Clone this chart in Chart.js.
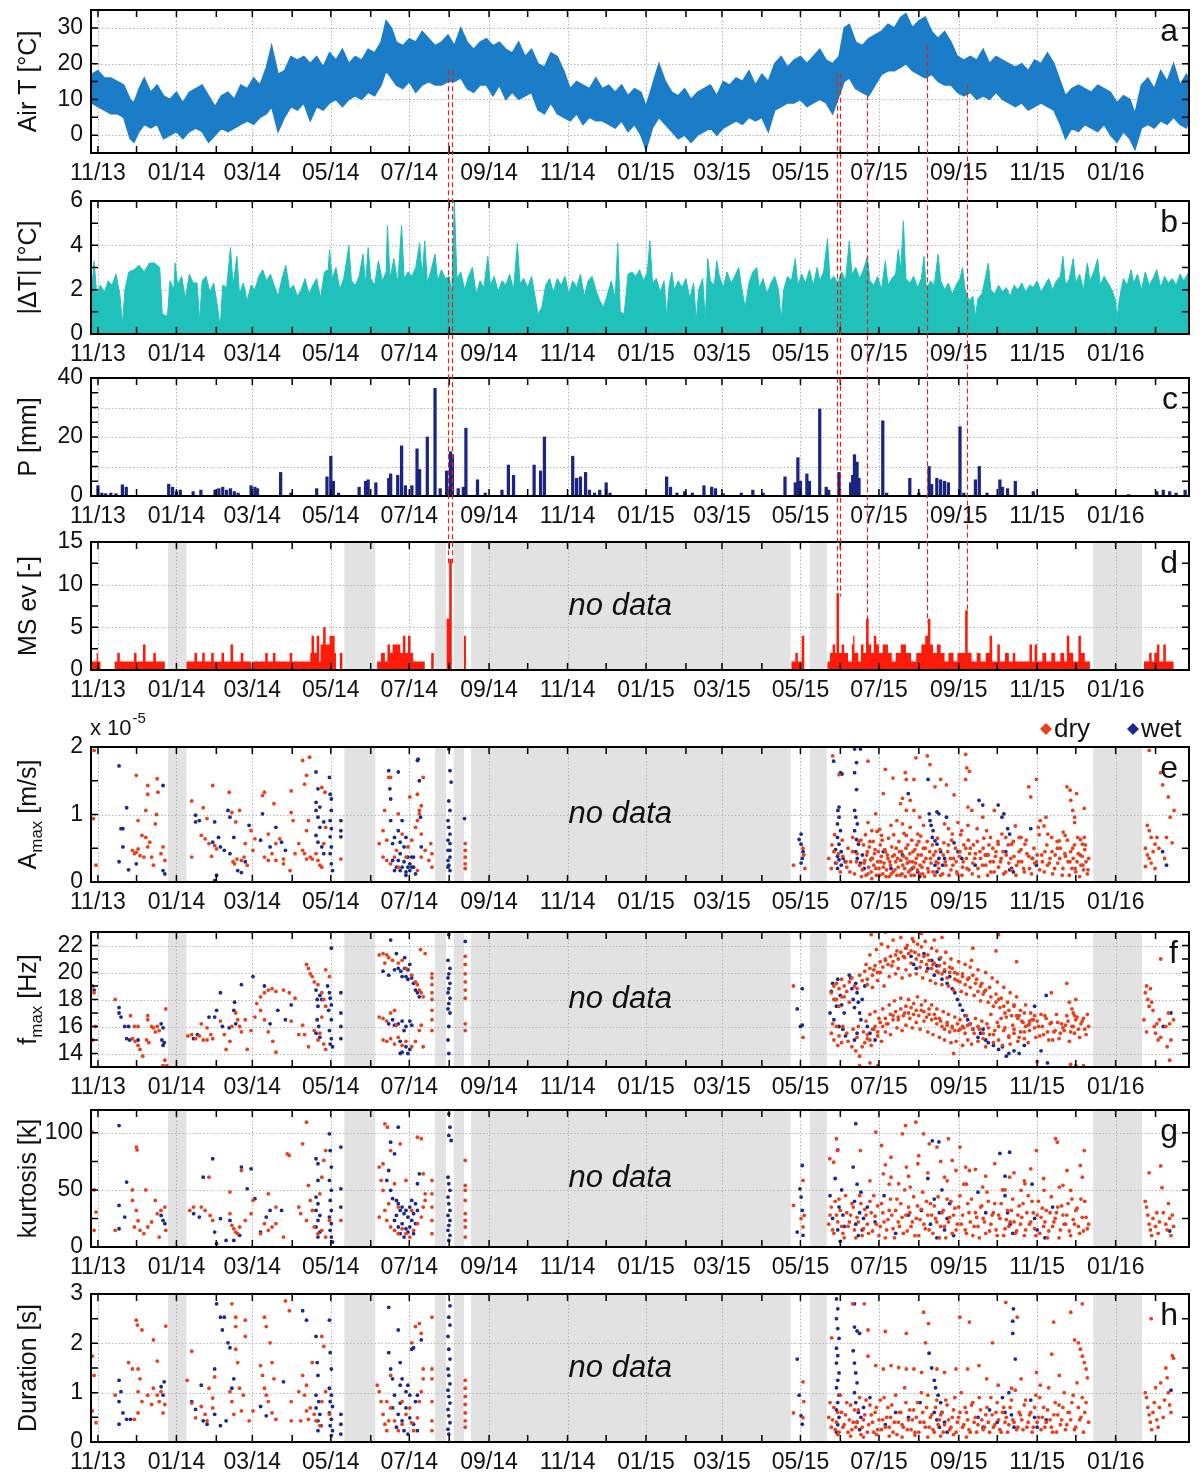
<!DOCTYPE html>
<html><head><meta charset="utf-8">
<script src="https://cdn.jsdelivr.net/npm/chart.js@4.4.1/dist/chart.umd.min.js"></script>
<style>
html,body{margin:0;padding:0;background:#fff;}
#wrap{position:relative;width:1200px;height:1475px;overflow:hidden;background:#fff;}
#wrap canvas{position:absolute;left:0;}
</style></head><body><div id="wrap"></div>
<script>
// ---------- axis ticks ----------
const tickMonths = ['2013-11','2013-12','2014-01','2014-02','2014-03','2014-04','2014-05','2014-06','2014-07','2014-08','2014-09','2014-10','2014-11','2014-12','2015-01','2015-02','2015-03','2015-04','2015-05','2015-06','2015-07','2015-08','2015-09','2015-10','2015-11','2015-12','2016-01','2016-02'];
const tickLabels = ['11/13','','01/14','','03/14','','05/14','','07/14','','09/14','','11/14','','01/15','','03/15','','05/15','','07/15','','09/15','','11/15','','01/16',''];

// ---------- data (x = days since 2013-11-01) ----------
const airHi = [[-5,17],[0,18],[5,16],[10,16],[15,15],[20,14],[25,10],[28,9],[32,13],[36,16],[41,12],[46,14],[51,11],[56,10],[61,12],[66,9],[71,12],[76,13],[81,14],[86,11],[91,8],[96,11],[101,12],[106,10],[111,14],[116,13],[121,16],[126,14],[131,19],[135,25],[140,17],[145,18],[150,22],[155,21],[160,22],[165,20],[170,22],[175,19],[180,23],[185,21],[190,24],[195,20],[200,22],[205,21],[210,24],[215,23],[220,26],[224,32],[228,30],[232,26],[237,25],[242,27],[247,26],[252,29],[257,27],[262,25],[267,26],[272,28],[277,25],[282,30],[287,26],[292,24],[297,26],[302,27],[307,25],[312,26],[317,24],[322,23],[327,26],[332,22],[337,24],[342,20],[347,19],[352,23],[357,22],[362,18],[367,13],[372,15],[377,14],[382,13],[387,16],[392,13],[397,14],[402,12],[407,14],[412,11],[417,13],[422,12],[426,8],[431,14],[436,20],[441,15],[446,12],[451,11],[456,13],[461,10],[466,12],[471,13],[476,14],[481,11],[486,15],[491,14],[496,16],[501,15],[506,18],[511,14],[516,17],[521,15],[526,20],[531,22],[536,19],[541,21],[546,22],[551,20],[556,22],[561,24],[566,21],[571,20],[576,22],[580,30],[584,31],[589,26],[594,25],[599,27],[604,28],[609,29],[614,31],[619,30],[624,33],[628,34],[633,30],[638,32],[643,33],[648,29],[653,27],[658,29],[663,26],[668,22],[673,21],[678,22],[683,21],[688,24],[693,20],[698,22],[703,21],[708,20],[713,19],[718,20],[723,18],[728,21],[733,20],[738,23],[743,20],[748,15],[752,11],[757,13],[762,14],[767,13],[772,12],[777,14],[782,13],[787,12],[792,9],[797,11],[802,10],[806,6],[811,14],[816,16],[821,13],[826,18],[831,15],[836,20],[841,14],[846,17],[848,15]];
const airLo = [[-5,9],[0,8],[5,7],[10,6],[15,6],[20,5],[25,-1],[28,-2],[32,1],[36,3],[41,2],[46,3],[51,-1],[56,0],[61,1],[66,-1],[71,1],[76,2],[81,1],[86,-2],[91,0],[96,2],[101,1],[106,2],[111,3],[116,4],[121,3],[126,5],[131,6],[135,8],[140,1],[145,5],[150,8],[155,7],[160,9],[165,4],[170,8],[175,7],[180,9],[185,10],[190,8],[195,10],[200,11],[205,10],[210,12],[215,11],[220,14],[224,18],[228,16],[232,14],[237,13],[242,15],[247,12],[252,14],[257,15],[262,14],[267,14],[272,15],[277,15],[282,16],[287,13],[292,12],[297,14],[302,14],[307,11],[312,14],[317,10],[322,12],[327,10],[332,11],[337,12],[342,7],[347,6],[352,9],[357,6],[362,5],[367,4],[372,6],[377,3],[382,5],[387,4],[392,4],[397,3],[402,2],[407,4],[412,1],[417,3],[422,0],[426,-4],[431,2],[436,5],[441,3],[446,1],[451,-1],[456,0],[461,-2],[466,0],[471,1],[476,2],[481,0],[486,2],[491,3],[496,4],[501,3],[506,5],[511,4],[516,5],[521,1],[526,7],[531,8],[536,9],[541,9],[546,10],[551,8],[556,9],[561,10],[566,9],[571,6],[576,11],[580,15],[584,16],[589,13],[594,12],[599,11],[604,14],[609,17],[614,18],[619,18],[624,19],[628,20],[633,18],[638,17],[643,16],[648,17],[653,15],[658,14],[663,14],[668,12],[673,11],[678,12],[683,10],[688,11],[693,10],[698,12],[703,10],[708,9],[713,8],[718,9],[723,7],[728,8],[733,9],[738,8],[743,7],[748,3],[752,-1],[757,2],[762,1],[767,3],[772,2],[777,1],[782,3],[787,0],[792,-2],[797,1],[802,-1],[806,-4],[811,2],[816,3],[821,2],[826,4],[831,3],[836,5],[841,3],[846,2],[848,4]];
const dT = [[-5.4,1.5],[-3,3.3],[-1,1.8],[2,2.2],[5,1.9],[8,2.4],[11,2.2],[14,2.7],[17,1.8],[19,0.4],[21,2.0],[24,2.8],[28,2.9],[32,3.1],[36,2.8],[40,3.2],[44,3.2],[48,3.0],[50,0.9],[54,0.8],[56,2.4],[59,2.0],[60,3.2],[62,2.2],[65,2.6],[68,1.6],[71,2.7],[74,2.3],[77,2.3],[79,0.6],[81,2.4],[84,2.6],[87,1.9],[90,2.3],[93,1.2],[95,0.3],[97,2.2],[100,2.1],[103,3.9],[105,2.2],[108,3.5],[110,1.8],[113,2.3],[116,1.5],[119,2.2],[122,2.0],[125,2.6],[128,2.9],[131,2.4],[134,2.7],[137,2.2],[140,1.7],[143,2.5],[146,3.1],[149,2.0],[152,2.2],[155,1.7],[158,2.0],[161,2.5],[164,1.8],[167,2.2],[170,2.5],[173,1.6],[176,2.8],[179,2.9],[180,3.8],[182,2.5],[185,3.0],[188,2.0],[191,2.5],[193,3.2],[195,4.0],[197,2.4],[200,2.2],[203,2.6],[206,3.6],[208,2.2],[210,3.9],[212,2.5],[215,2.2],[218,3.3],[221,2.4],[224,2.8],[225,4.9],[227,2.5],[230,3.4],[233,2.3],[236,4.9],[238,2.5],[241,2.8],[244,2.6],[247,3.0],[250,4.1],[252,2.6],[254,4.2],[256,2.3],[259,2.9],[262,3.6],[264,2.4],[267,2.9],[270,2.5],[273,2.6],[275,1.8],[277,6.0],[279,2.5],[282,2.8],[285,2.0],[288,2.6],[291,3.0],[294,1.8],[297,2.4],[300,2.1],[303,3.5],[305,2.2],[308,2.6],[311,1.9],[314,2.4],[317,2.2],[320,2.7],[323,2.0],[326,4.1],[328,2.3],[331,2.5],[334,2.1],[337,2.6],[340,1.6],[342,0.9],[345,1.2],[348,2.2],[351,2.5],[354,1.9],[357,2.5],[360,2.2],[363,2.6],[366,1.8],[369,2.4],[372,2.1],[375,2.7],[378,1.7],[381,2.4],[384,2.6],[387,2.0],[390,1.5],[393,1.2],[396,1.8],[399,2.4],[402,1.6],[404,4.1],[406,1.0],[409,0.9],[412,2.7],[415,2.8],[418,2.6],[421,2.9],[424,2.4],[427,2.8],[429,4.2],[431,2.3],[434,2.5],[437,1.9],[440,2.4],[442,0.8],[444,2.2],[446,2.8],[448,2.0],[451,2.4],[454,2.1],[457,2.5],[460,1.6],[463,2.3],[465,0.6],[467,2.0],[470,2.5],[472,0.6],[474,3.4],[476,2.4],[479,2.2],[481,3.3],[483,2.6],[486,2.1],[489,2.8],[492,2.3],[495,2.6],[498,3.0],[500,2.2],[503,1.2],[506,2.3],[509,2.8],[512,3.0],[514,2.1],[517,2.5],[520,1.8],[523,2.3],[526,2.6],[529,2.0],[531,0.6],[533,2.0],[536,2.6],[539,2.4],[542,3.4],[544,2.2],[547,2.7],[550,2.3],[553,2.9],[556,2.2],[559,3.0],[561,2.4],[564,2.8],[567,4.3],[569,2.4],[572,2.6],[575,2.3],[578,2.8],[581,2.4],[584,4.2],[586,2.7],[589,3.0],[592,2.5],[595,2.9],[598,3.5],[600,2.4],[603,2.2],[606,2.6],[609,2.0],[612,3.3],[614,2.2],[617,2.5],[620,2.7],[622,3.8],[624,2.9],[626,5.1],[628,2.5],[631,2.3],[634,2.6],[637,2.1],[640,2.5],[642,3.5],[644,2.0],[647,2.4],[650,2.2],[653,3.6],[655,2.4],[658,2.0],[661,2.3],[664,1.8],[667,2.2],[670,2.5],[672,3.0],[674,2.0],[677,1.5],[680,1.7],[682,0.8],[684,1.6],[687,1.8],[690,2.6],[692,3.2],[694,2.0],[697,1.8],[700,2.2],[703,1.9],[706,2.1],[709,1.7],[712,2.2],[715,2.0],[718,2.3],[721,1.9],[724,2.2],[727,2.1],[730,2.4],[733,1.9],[736,2.2],[739,2.5],[742,2.0],[745,2.4],[748,2.6],[750,3.5],[752,2.2],[755,2.5],[758,3.4],[760,2.3],[763,2.7],[766,2.0],[769,3.2],[771,2.4],[774,2.8],[777,3.4],[779,2.2],[782,2.6],[785,2.3],[788,2.0],[791,1.5],[792,0.7],[794,1.6],[797,2.5],[800,2.2],[803,2.9],[805,2.3],[808,2.7],[811,2.0],[814,2.8],[817,2.2],[820,2.5],[823,2.9],[826,2.1],[829,2.6],[832,2.3],[835,2.5],[838,2.2],[841,2.7],[844,2.4],[848,2.8]];
const pRain = [[0,3.5],[3,1],[6,0.8],[10,1],[14,0.8],[19,3.8],[22,3],[55,4],[58,3],[61,1.5],[64,2],[74,1.5],[80,2],[91,2],[94,2.5],[97,3],[100,2],[103,2.5],[106,1.5],[109,1],[119,3.5],[122,3],[124,2.5],[142,8],[150,1],[170,2.5],[178,6.5],[181,13.5],[183,5],[187,1],[203,3],[208,5],[210,5.5],[216,4.5],[226,6],[227.5,7.5],[233,7],[236,17],[239,3.5],[244,3.5],[248,16],[250,9],[256,20],[262,36.5],[266,2.5],[271,8.5],[274,15],[275.5,14],[280,2.5],[284,3],[286,23],[295,5.5],[301,1],[314,2],[319,10.5],[323,7],[339,10.5],[344,8.5],[347,20],[369,13.5],[372,6],[375,6.5],[379,8],[382,2],[386,1],[390,2],[395,4.5],[398,1],[442,6.5],[445,3],[450,1],[456,1.5],[462,1],[471,3.5],[477,3],[480,2.5],[486,0.8],[500,1],[509,2],[517,1],[534,6.5],[542,4.5],[544,13],[546,5],[551,7.5],[553,5],[561,29.5],[566,3],[568,2],[576,8],[585,4.5],[586.5,7],[588,14],[590,11.5],[591.5,6],[610,25.5],[613,1],[631,6],[638,1],[646,10],[648,4],[652,6],[655,5.5],[658,5],[661,4.5],[670,23.5],[673,1],[682,5.5],[685,10],[691,1],[701,5.5],[703,3],[707,2.5],[713,5],[727,1.5],[761,0.8],[801,0.5],[823,1.5],[828,2],[833,1.5],[838,1],[845,2]];
// value holds from each listed day until the next listed day
const msEv = [[-5.4,1],[-1,2],[0,1],[2,0],[13,1],[15,2],[17,1],[28,2],[30,1],[35,3],[37,1],[43,2],[45,1],[52,0],[68.8,1],[75,2],[77,1],[81,2],[83,1],[88,2],[90,1],[96,2],[98,1],[103,3],[105,1],[111,2],[113,1],[119,0],[120,1],[130,2],[132,1],[136,2],[138,1],[149,2],[151,1],[165,2],[166,4],[168,2],[170,4],[172,1],[173,3],[175,5],[177,3],[180,4],[184,2],[185,0],[188,2],[190,0],[217,1],[220,2],[223,1],[225,3],[227,2],[229,3],[235,2],[237,4],[239,2],[241,4],[243,2],[245,1],[254,0],[259,2],[261,0],[271,6],[273,13],[275,0],[284.5,4],[286,0],[539,1],[542,2],[544,1],[547,4],[549,0],[567,1],[569,2],[571,3],[573,2],[574,9],[576,2],[578,3],[580,2],[583,1],[586,3],[587,4],[588,2],[591,1],[593,3],[595,2],[597,6],[599,3],[601,2],[603,4],[605,3],[607,2],[610,3],[614,2],[617,1],[620,2],[624,3],[628,2],[632,1],[636,2],[640,3],[643,4],[645,6],[647,3],[649,2],[652,3],[655,2],[658,1],[661,2],[665,1],[668,2],[674,7],[676,2],[679,1],[683,2],[686,1],[690,2],[693,4],[695,1],[699,3],[701,1],[705,2],[708,1],[711,2],[713,1],[724,3],[726,1],[728,3],[730,1],[734,2],[737,1],[741,2],[744,1],[748,2],[751,1],[753,4],[755,2],[758,1],[762,4],[764,2],[767,1],[771,0],[813,1],[817,2],[819,1],[821,2],[823,3],[825,1],[828,3],[830,1],[836,0],[848,0]];

const eDry = [[-3,1.95],[-3.5,0.94],[-1.5,0.25],[29.8,1.58],[38.7,1.43],[38.7,1.3],[46,1.53],[46.7,1.33],[37.2,1.06],[45.5,1.0],[44.6,0.86],[31.2,0.91],[34.2,0.69],[26.8,0.47],[28.3,0.42],[29.8,0.44],[31.2,0.49],[32.7,0.39],[35.7,0.37],[38.7,0.52],[41.7,0.37],[43.1,0.25],[49,0.42],[50.6,0.52],[52,0.32],[37.2,0.66],[40.2,0.59],[72.9,1.2],[72.9,0.37],[89.2,1.43],[81.8,1.1],[84.8,0.94],[80.3,0.69],[83.3,0.64],[86.3,0.57],[92.2,0.49],[88.3,0.38],[90.7,0.54],[102,1.33],[104.1,1.03],[107.1,0.89],[110.1,1.06],[108,0.34],[105,0.3],[106.2,0.27],[111.5,0.32],[113.6,0.37],[114.5,0.57],[116,0.25],[119,0.76],[122,0.64],[120.5,0.47],[129.4,1.33],[127.9,1.28],[136.8,1.16],[132.4,0.71],[138.3,0.57],[141.3,0.64],[129.4,0.37],[132.4,0.32],[135.3,0.42],[138.3,0.32],[144.2,0.34],[150.2,1.35],[151.7,0.91],[150.2,1.03],[144.2,0.27],[149.3,0.17],[153.2,0.42],[156.1,0.57],[159.1,1.8],[164.5,1.85],[160.6,1.45],[162.1,1.58],[163.6,0.91],[162.1,0.76],[159.1,0.47],[160.6,0.42],[162.1,0.34],[165,0.37],[166.6,0.34],[169.5,0.42],[171,0.32],[172.5,0.25],[174,0.22],[175.5,0.57],[177,0.81],[174,1.4],[176.4,1.33],[188.8,0.34],[218.6,0.57],[226,1.55],[227.5,1.55],[222.8,1.06],[221.6,0.76],[224.5,0.62],[221.6,0.37],[224.5,0.32],[227.5,0.27],[230.5,0.37],[232,0.47],[233.4,0.22],[239.4,0.37],[240.9,0.52],[242.4,1.26],[243.9,0.62],[246.8,0.81],[248.3,0.91],[249.8,1.01],[248.3,1.3],[249.8,1.06],[251.3,0.71],[248.3,0.17],[251.3,0.37],[252.8,1.55],[251.3,1.13],[254.3,0.47],[257.2,0.32],[259.6,0.42],[259.6,0.22],[258.7,0.57],[233.4,1.01],[236.4,0.71],[285.5,0.57],[285.5,0.47],[285.5,0.37],[285.5,0.27],[285.5,0.2],[540.6,0.25],[548,0.5],[548.6,0.4],[549.5,0.2],[571,1.87],[576,1.59],[598.5,1.79],[612,1.67],[610.4,1.31],[617.9,1.54],[627.4,1.62],[628.3,1.52],[634.2,1.52],[635.7,1.84],[623.8,1.16],[625.3,1.24],[631.3,1.21],[628.3,1.06],[634.2,1.06],[638.7,0.96],[644.6,1.87],[646.7,1.74],[650.6,1.41],[655,1.52],[659.5,1.44],[665.4,1.29],[674.4,1.89],[675.3,1.69],[677.3,1.64],[674.4,1.52],[676.2,1.11],[679.2,1.06],[687.7,0.96],[690.7,0.76],[696.7,1.06],[702.6,0.71],[713,0.83],[716,0.66],[723.4,1.41],[725,1.26],[729.4,1.52],[730.9,0.81],[732.4,0.91],[735.3,0.83],[736.8,0.96],[738.3,0.71],[753.2,1.41],[755.6,1.36],[756.1,1.21],[757.6,1.06],[759.1,0.96],[760.6,1.31],[766.6,1.09],[766.6,0.66],[759.1,0.88],[750.2,0.74],[763.6,0.63],[586.6,0.66],[598.5,0.88],[601.5,0.76],[604.5,1.01],[607.5,0.78],[609,0.69],[616.4,0.84],[620.9,0.91],[625.3,0.86],[628.3,0.69],[631.3,0.81],[637.2,0.71],[641.7,0.84],[658,0.86],[661,0.79],[664,0.71],[668.4,0.88],[671.4,0.76],[676.2,0.84],[683.3,0.79],[693.7,0.66],[699.7,0.56],[705.6,0.66],[710.1,0.56],[717.5,0.66],[720.5,0.56],[741.3,0.66],[745.7,0.5],[747.2,0.61],[751.7,0.69],[765.1,0.56],[568,0.35],[570,0.2],[572,0.45],[574,0.28],[577,0.15],[579,0.38],[582,0.22],[583,0.5],[585,0.3],[588,0.12],[590,0.42],[592,0.25],[594,0.18],[595,0.55],[596,0.32],[597,0.1],[598,0.45],[599,0.22],[600,0.6],[601,0.15],[602,0.35],[603,0.25],[604,0.48],[605,0.1],[606,0.3],[607,0.2],[608,0.55],[609,0.38],[610,0.12],[611,0.28],[612,0.45],[613,0.18],[614,0.35],[615,0.08],[616,0.25],[617,0.52],[618,0.15],[619,0.4],[620,0.3],[621,0.1],[622,0.22],[623,0.45],[624,0.32],[625,0.12],[626,0.38],[627,0.2],[628,0.5],[629,0.28],[630,0.15],[631,0.42],[632,0.1],[633,0.3],[634,0.22],[635,0.48],[636,0.35],[637,0.18],[638,0.6],[639,0.25],[640,0.4],[641,0.12],[642,0.3],[643,0.5],[645,0.2],[647,0.35],[649,0.15],[651,0.45],[653,0.28],[655,0.1],[657,0.4],[659,0.25],[661,0.55],[663,0.18],[665,0.35],[667,0.3],[668,0.12],[670,0.45],[672,0.22],[673,0.55],[675,0.35],[677,0.18],[678,0.5],[680,0.28],[682,0.42],[684,0.2],[686,0.35],[688,0.5],[690,0.25],[692,0.4],[694,0.15],[696,0.3],[698,0.45],[700,0.22],[702,0.35],[704,0.12],[706,0.4],[708,0.28],[710,0.18],[712,0.38],[714,0.25],[716,0.45],[718,0.3],[720,0.15],[722,0.42],[724,0.2],[726,0.35],[728,0.28],[730,0.4],[732,0.18],[734,0.3],[736,0.45],[738,0.25],[740,0.35],[742,0.12],[744,0.4],[746,0.28],[748,0.5],[750,0.2],[752,0.38],[754,0.3],[755,0.1],[756,0.45],[757,0.2],[758,0.35],[759,0.55],[760,0.15],[761,0.3],[762,0.42],[763,0.08],[764,0.25],[765,0.38],[766,0.18],[767,0.48],[768,0.3],[769,0.12],[770,0.35],[815.6,0.84],[817.1,0.76],[818.6,0.66],[814.1,0.5],[815.6,0.4],[817.1,0.35],[818.6,0.28],[814.1,0.23],[820.1,0.45],[821.6,0.56],[823.1,0.66],[824.6,0.5],[826,1.62],[827.5,1.44],[831.9,1.26],[833.4,0.96],[830.5,0.66],[834.9,0.58],[836.4,1.06],[817.1,1.95],[821.6,0.2],[829,0.35]];
const eDry2 = [[593,0.62],[593.5,0.08],[595.5,0.28],[596.5,0.7],[597.5,0.4],[598.5,0.12],[599.5,0.52],[600.5,0.33],[601.5,0.05],[602.5,0.6],[603.5,0.42],[604.5,0.2],[605.5,0.75],[606.5,0.45],[607.5,0.1],[608.5,0.3],[609.5,0.62],[610.5,0.22],[611.5,0.48],[612.5,0.08],[613.5,0.4],[614.5,0.65],[615.5,0.3],[616.5,0.12],[617.5,0.38],[618.5,0.7],[619.5,0.18],[620.5,0.5],[621.5,0.35],[622.5,0.6],[623.5,0.1],[624.5,0.45],[625.5,0.25],[626.5,0.72],[627.5,0.08],[628.5,0.35],[629.5,0.55],[630.5,0.3],[631.5,0.18],[632.5,0.62],[633.5,0.45],[634.5,0.1],[635.5,0.28],[636.5,0.55],[637.5,0.4],[638.5,0.12],[639.5,0.68],[640.5,0.22],[641.5,0.5],[642.5,0.08],[643.5,0.35],[644.5,0.6],[645.5,0.15],[646.5,0.45],[647.5,0.28],[648.5,0.55],[649.5,0.4],[650.5,0.1],[651.5,0.3],[652.5,0.65],[653.5,0.2],[654.5,0.48],[656.5,0.12],[657.5,0.58],[658.5,0.3],[660.5,0.45],[661.5,0.1],[662.5,0.35],[663.5,0.62],[664.5,0.25],[666.5,0.5],[667.5,0.15],[669.5,0.38],[670.5,0.7],[671.5,0.1],[672.5,0.3],[674.5,0.5],[675.5,0.2],[676.5,0.62],[677.5,0.42],[679.5,0.12],[680.5,0.55],[681.5,0.35],[683.5,0.6],[684.5,0.08],[685.5,0.45],[687.5,0.25],[688.5,0.65],[689.5,0.4],[691.5,0.1],[692.5,0.55],[693.5,0.3],[695.5,0.5],[696.5,0.15],[697.5,0.38],[699.5,0.6],[701.5,0.3],[703.5,0.45],[705.5,0.15],[707.5,0.55],[709.5,0.35],[711.5,0.6],[713.5,0.1],[715.5,0.3],[717.5,0.48],[719.5,0.2],[721.5,0.62],[723.5,0.38],[725.5,0.12],[727.5,0.5],[729.5,0.3],[731.5,0.7],[733.5,0.4],[735.5,0.15],[737.5,0.55],[739.5,0.28],[741.5,0.45],[743.5,0.2],[745.5,0.6],[747.5,0.35],[749.5,0.1],[751.5,0.42],[753.5,0.62],[755.5,0.3],[757.5,0.5],[759.5,0.2],[761.5,0.66],[763.5,0.4],[765.5,0.25],[767.5,0.55],[769.5,0.18],[570.5,0.55],[572.5,0.7],[575.5,0.42],[578.5,0.62],[581.5,0.3],[584.5,0.15],[586.5,0.45],[589.5,0.3],[591.5,0.6]];
const eWet = [[16.4,1.72],[22.3,1.1],[17.9,0.79],[19.4,0.79],[19.4,0.52],[16.4,0.3],[23.8,0.18],[50.6,1.43],[50.6,0.17],[52,0.12],[29.8,0.27],[75.9,0.99],[78.8,0.91],[75.9,0.89],[90.7,0.89],[93.7,0.66],[89.2,0.59],[95.2,0.52],[98.2,0.47],[90.7,0.02],[92.2,0.1],[101.1,1.06],[102.6,0.96],[105.6,0.66],[102.6,0.42],[108.6,0.17],[111.5,0.14],[114.5,0.3],[117.5,0.84],[127.9,1.01],[126.4,0.62],[133.8,0.52],[138.3,0.81],[142.7,0.59],[145.7,0.47],[169.5,1.63],[171,1.38],[169.5,1.18],[172.5,1.11],[169.5,1.06],[171,0.96],[172.5,0.81],[169.5,0.69],[171,0.59],[175.5,0.89],[174,0.52],[175.5,0.42],[179.9,1.55],[180.5,1.3],[181.4,1.23],[181.4,1.06],[180.5,0.91],[181.4,0.79],[180.5,0.67],[181.4,0.52],[180.5,0.42],[181.4,0.27],[182.3,0.17],[188.8,0.91],[188.8,0.76],[188.8,0.67],[226,1.65],[226.9,1.38],[227.5,1.23],[233.4,1.63],[227.5,0.91],[229,0.57],[230.5,0.66],[233.4,0.76],[234.9,0.59],[236.4,0.91],[237.9,0.52],[239.4,0.66],[240.9,0.37],[242.4,0.27],[243.9,0.22],[245.3,0.37],[246.8,0.12],[248.3,1.8],[248.9,1.82],[249.8,1.5],[250.7,0.96],[251.3,0.52],[233.4,0.32],[234.9,0.17],[236.4,0.22],[237.9,0.3],[239.4,0.15],[232,0.22],[229,0.32],[230.5,0.17],[239.4,0.1],[242.4,0.17],[240.9,0.22],[245.3,0.22],[243.9,0.37],[234.9,0.42],[272.7,1.97],[273.6,1.65],[274.5,1.48],[272.7,1.2],[273.6,1.06],[272.1,0.91],[272.7,0.81],[273.6,0.71],[272.1,0.62],[273.6,0.57],[272.1,0.47],[273.6,0.37],[272.1,0.32],[272.7,0.25],[273.6,0.17],[272.1,0.22],[273.6,0.47],[284.9,0.94],[545,0.63],[546.5,0.71],[546.5,0.56],[548,0.45],[547.4,0.35],[546.5,0.28],[571.8,1.79],[577.1,1.62],[578.3,1.6],[576,1.11],[575.1,1.06],[576,0.96],[574.8,0.86],[577.1,0.76],[574.8,0.66],[576,0.56],[573.3,0.48],[577.7,0.45],[574.8,0.38],[576,0.33],[573.3,0.28],[577.7,0.25],[574.8,0.2],[579.2,0.35],[580.7,0.3],[588.1,1.97],[592.6,1.97],[589.6,1.77],[588.1,1.62],[589.6,1.37],[588.1,1.06],[589,0.96],[590.2,0.86],[588.1,0.76],[589.6,0.63],[591.1,0.56],[589,0.45],[590.2,0.35],[592.6,0.28],[594.1,0.4],[595.6,0.2],[601.5,0.35],[610.4,0.45],[616.4,0.2],[625.3,0.4],[629.8,1.31],[632.8,0.2],[637.2,0.15],[645.2,1.52],[646.1,1.01],[646.7,0.91],[647.6,0.84],[649.1,0.76],[648.5,0.66],[650.6,0.61],[652.1,1.04],[653.6,1.01],[652.1,0.56],[655,0.45],[653.6,0.35],[650.6,0.25],[656.5,0.25],[658,0.35],[659.5,0.96],[652.1,0.15],[638.7,0.08],[665.4,0.58],[668.4,0.45],[671.4,0.35],[684.8,1.21],[687.7,1.14],[681.8,0.25],[690.7,0.4],[699.7,1.14],[702.6,0.96],[704.1,1.01],[707.1,0.79],[708.6,0.71],[705.6,0.45],[710.1,0.2],[711.5,0.15],[708.6,0.18],[725,0.79],[726.4,0.35],[729.4,0.25],[827.5,0.45],[830.5,0.25]];

const fDry = [[-4,19],[-3,18.5],[-2,16],[-4,15],[13.4,18],[25.3,16.8],[28.3,16],[31.2,16],[26.8,15.1],[28.9,14.9],[31.2,14.6],[32.7,14.3],[34.8,13.8],[38.7,16.8],[38.7,16.5],[37.8,15],[39.6,14.8],[41.7,16],[43.1,15.9],[44.6,15.6],[46.1,16],[47.6,15.7],[52.7,17.3],[52,13.5],[50.6,13.1],[53.5,13.1],[69.9,15.3],[72.9,15.4],[75.9,15.1],[78.8,15.3],[81.8,15],[84.8,15],[87.7,15.4],[89.2,15.1],[80.3,16.2],[84.8,15.9],[95.2,16.4],[98.2,15.4],[99.6,14.3],[104.1,16],[102.6,14.9],[107.1,17],[108.6,16.5],[110.1,16],[111.5,15.6],[114.5,16.5],[116,14.3],[119,15.7],[122,16.7],[123.4,17.7],[126.4,18.2],[129.4,18.5],[132.4,18.7],[135.3,18.8],[138.3,18.6],[126.4,17.2],[129.4,16.5],[132.4,15.6],[135.9,14.9],[138.3,14.1],[144.2,18.7],[148.7,18.5],[153.2,18.1],[150.2,16.4],[156.1,15.4],[159.1,16.1],[160.6,15.4],[162.1,20.6],[163.6,20.3],[165,19.9],[166.6,19.7],[168.1,19.3],[171,19.1],[174,18.5],[175.5,18],[177,17.5],[174,16.7],[172.5,15.5],[175.5,14.7],[177,14.3],[177,20.2],[179.9,19.7],[171,15],[163.6,14.5],[168.1,15.7],[218.6,21.3],[221.6,21.4],[224.5,21.3],[226,21.1],[229,20.9],[223,20.7],[233.4,20.7],[236.4,20.9],[239.4,20.3],[243.9,19.8],[246.8,19.3],[248.3,19.1],[249.8,18.7],[251.3,18.5],[252.8,18.2],[250.7,21.7],[254.3,21.4],[259.6,19.9],[259.6,19.6],[259.6,19.1],[259.6,18.5],[259.6,18],[218.6,16.7],[221.6,16.6],[224.5,16.4],[227.5,17],[230.5,17.2],[232,16.1],[221.6,15],[224.5,14.9],[227.5,15.1],[230.5,14.7],[233.4,15.2],[236.4,14.6],[239.4,14.9],[243.9,14.5],[246.8,14.9],[249.8,15.7],[251.3,16.1],[252.8,14.5],[259.6,17.2],[259.6,16.5],[259.6,15.7],[285.5,21.2],[285.5,20.6],[285.5,19.9],[285.5,19.3],[285.5,18.7],[285.5,18.1],[285.5,16.2],[285.5,15.7],[540.6,19],[548,15.2],[570,18.5],[572,19],[574,18],[576,18.8],[578,19.5],[580,18.2],[584,19.3],[588,19],[592,19.8],[596,20.1],[598,19.5],[600,20.3],[602,19.8],[604,20.5],[606,20],[608,20.8],[610,20.4],[612,21],[614,20.6],[616,21.2],[618,20.8],[620,21.3],[622,21],[624,21.5],[626,21.2],[628,21.8],[630,21.4],[632,21.6],[634,22.3],[636,21],[638,21.3],[640,20.8],[642,21.2],[644,20.6],[646,20.9],[648,20.3],[650,20.7],[652,20.1],[654,20.5],[656,19.9],[658,20.2],[660,19.6],[662,20],[664,20.3],[666,19.5],[668,19.9],[670,19.3],[672,19.7],[674,19.1],[676,19.5],[678,20.4],[680,19.8],[682,19.2],[684,18.6],[686,19],[688,18.4],[690,18.7],[694,18.2],[698,17.8],[700,18],[704,17.5],[708,17.2],[712,17.6],[716,16.8],[720,17],[724,16.4],[728,16.8],[601,22.8],[612,23],[640,22.9],[650,22.4],[656,22.6],[680,21.8],[700,22.8],[698,21.6],[714,20.8],[741,18.5],[753,19.2],[760,18],[755,17.8],[757,17.3],[758,17],[759,16.8],[570,15.5],[572,15],[574,16],[576,15.3],[578,14.8],[582,15.5],[586,14.5],[590,15.2],[592,13.8],[594,14.5],[596,14.8],[598,15.4],[600,15],[602,15.8],[604,16],[606,15.6],[608,16.3],[610,16],[612,16.6],[614,16.2],[616,16.9],[618,16.5],[620,17.1],[622,16.7],[624,17.3],[626,16.8],[628,17.5],[630,17],[632,17.4],[634,16.9],[636,17.2],[638,16.8],[640,17.6],[642,17.1],[644,16.7],[646,17.3],[648,16.5],[650,16.9],[652,16.2],[654,16.6],[656,16],[658,15.8],[660,16.3],[662,15.6],[664,16],[666,15.7],[668,16.2],[670,15.8],[672,16],[674,15.5],[676,16.1],[680,15.8],[684,16],[688,15.5],[692,15.9],[696,15.4],[700,16],[704,15.7],[708,15.3],[712,15.8],[716,15.2],[720,15.6],[724,16.2],[726,16.5],[728,15.9],[730,16.4],[732,15.3],[734,16],[736,16.8],[738,15.6],[740,16.2],[742,15],[744,15.7],[746,16.3],[748,15.5],[750,15.9],[752,16.1],[754,16.4],[756,15.6],[758,16],[760,16.5],[762,15.8],[764,16.2],[766,16.6],[768,15.4],[770,16],[592,13.1],[600,13.3],[606,13.1],[665,14],[730,13.4],[756,13.2],[760,13.1],[766,13.1],[813,16.5],[814,18.5],[815,19],[816,18],[817,17.5],[818,18.8],[819,17.8],[820,17.2],[821,16],[822,15.5],[823,16.2],[824,15],[825,16.5],[826,15.2],[815,15.6],[830,16],[831,14.5],[832,17],[833,16.2],[834,15],[836,16.5],[826,21],[833,13.5]];
const fDry2 = [[597,20.6],[598,19.1],[600,21.3],[602,18.9],[603,20.2],[605,21.7],[606,19.4],[608,20.0],[609,22.1],[611,19.0],[612,20.9],[614,21.9],[615,19.7],[617,20.5],[618,22.4],[620,19.9],[621,21.6],[622,20.3],[624,22.6],[625,19.6],[627,21.1],[628,20.2],[629,22.0],[631,19.8],[632,20.7],[633,22.5],[635,21.5],[636,19.9],[637,22.1],[639,20.4],[640,21.9],[641,19.6],[643,22.3],[644,20.1],[645,21.3],[647,19.4],[648,21.8],[649,20.6],[651,19.2],[652,21.6],[653,20.0],[655,21.1],[656,19.1],[658,20.7],[659,21.5],[661,19.0],[662,20.4],[663,21.0],[665,18.7],[666,20.0],[668,19.4],[669,20.8],[671,18.6],[672,19.9],[674,20.6],[675,18.4],[677,19.6],[678,18.9],[679,20.9],[681,18.3],[683,19.5],[684,20.2],[686,17.9],[687,19.2],[689,18.6],[690,20.0],[692,17.8],[693,18.9],[695,19.6],[696,17.5],[698,18.4],[699,19.3],[701,17.4],[702,18.1],[704,18.9],[705,17.0],[707,17.8],[709,18.5],[710,16.8],[712,17.5],[714,18.2],[715,16.6],[717,17.2],[719,16.3],[721,17.6],[723,16.1],[725,17.0],[597,16.4],[598,15.1],[600,16.9],[601,14.6],[603,15.8],[604,17.1],[606,15.3],[607,16.6],[609,14.9],[610,17.3],[612,15.6],[613,16.2],[615,17.6],[616,15.4],[618,16.8],[619,17.9],[621,15.9],[622,16.5],[624,18.1],[625,15.7],[627,17.0],[628,16.1],[630,18.0],[631,16.6],[633,15.9],[634,17.7],[636,16.3],[637,18.2],[639,15.8],[640,17.2],[642,16.4],[643,17.9],[645,15.6],[646,16.9],[648,17.6],[649,15.4],[651,16.6],[652,17.3],[654,15.2],[655,16.4],[657,17.1],[658,15.0],[660,16.1],[661,16.9],[663,14.8],[664,15.9],[666,16.7],[667,14.9],[669,15.7],[670,16.5],[672,14.6],[673,15.9],[675,16.8],[676,15.0],[678,16.2],[679,14.7],[681,15.5],[682,16.6],[684,14.9],[685,15.8],[687,16.4],[688,15.1],[690,14.5],[691,16.2],[693,15.4],[694,16.9],[696,14.8],[697,15.7],[699,16.3],[700,15.0],[702,16.6],[703,14.6],[705,15.9],[706,16.7],[708,15.2],[709,14.7],[711,16.1],[712,15.5],[714,16.8],[715,14.9],[717,15.6],[718,16.4],[720,15.1],[721,16.0],[723,14.8],[724,15.7],[727,16.5],[729,15.2],[731,16.0],[733,16.9],[735,15.4],[737,16.6],[739,15.0],[741,16.3],[743,15.6],[745,16.9],[747,15.1],[749,16.2],[751,15.7],[753,16.8],[755,14.9],[757,16.0],[759,15.5],[761,16.7],[763,15.2],[765,16.4],[767,15.8],[769,16.9],[572,18.0],[574,19.2],[576,17.5],[578,18.2],[580,19.0],[582,18.6],[584,17.8],[586,19.6],[590,18.8],[594,19.4],[571,16.2],[575,14.6],[579,16.0],[583,14.9],[587,15.8],[589,14.2],[591,16.0],[595,15.6]];
const fWet = [[-3,18.7],[16.4,17.4],[16.4,17],[17.9,16.7],[20.8,16],[23.8,16],[22.3,15.1],[24.7,15],[31.2,15],[49.1,16.2],[50.6,15.9],[49.7,15],[51.5,14.8],[50.6,14.6],[74.3,15.1],[77.3,15.4],[86.3,16.7],[90.7,16.7],[95.2,18.5],[92.2,17.2],[96.7,16],[102,15.9],[105.6,17.2],[106.2,17.8],[107.1,16.2],[111.5,19.1],[120.5,19.7],[129.4,19],[133.8,16.2],[139.8,17.2],[145.7,16.5],[150.2,17.6],[169.5,18.7],[170.4,18],[171,17.5],[172.5,18.3],[170.4,16.5],[171.6,16],[169.5,15.5],[172.5,15.2],[174,18],[178.5,19],[179.9,18.5],[180.5,18.1],[181.4,17.6],[179.3,17.2],[181.4,16.5],[179.9,15.7],[181.4,15.1],[180.5,14.7],[182.3,14.5],[181.4,21.8],[188.8,18.5],[188.8,17],[188.8,16],[188.8,15.1],[221.6,20.1],[226,19.8],[230.5,20.2],[232,21.4],[235.4,20.1],[238.4,20.3],[239.4,19.7],[240.9,20.2],[242.4,20.6],[243.9,19.6],[245.3,19.2],[246.8,18.7],[248.3,18.5],[249.8,18.2],[240.9,19.5],[236.4,19.7],[233.4,20.3],[227.5,22.4],[238.4,21.1],[226,16.2],[229,16.5],[233.4,16.2],[236.4,16.4],[239.4,16],[242.4,16.4],[243.9,16.1],[234.9,14.9],[239.4,14.5],[242.4,14.3],[236.4,14.1],[234.9,14],[240.9,14],[230.5,16.1],[237.9,15.7],[272.7,22.8],[272.1,20.9],[273.6,20.3],[272.7,19.9],[272.1,19.6],[273.6,19.2],[272.7,18.8],[272.1,18.5],[273.6,18.1],[272.7,17.7],[272.1,17.3],[273.6,17],[272.7,16],[272.1,15],[272.7,14],[285.5,22.3],[547.4,18.8],[543.5,17.3],[547.4,16.1],[546,16],[569,17],[570,18.6],[571,19.2],[572,16.5],[573,18],[574,17.5],[575,19.5],[576,16],[577,18.3],[578,17.6],[579,15.8],[580,17],[581,15.3],[585,19.6],[586,18.8],[587,18],[588,17.4],[589,19.2],[590,18.5],[591,17.8],[592,17],[593,16.5],[594,18],[590,15.5],[588,15],[584,19.8],[596,19],[598,16],[600,15.5],[604,15],[628,21.8],[632,21.2],[634,20.6],[636,20.3],[642,21.4],[645,20.3],[648,20.9],[650,19.8],[652,20.5],[654,21],[656,19.5],[658,20.1],[660,19.2],[662,19.7],[664,18.8],[666,18.5],[668,18],[670,17.6],[672,17.2],[674,16.8],[676,16.5],[678,16.2],[680,15.8],[684,15.2],[686,15.5],[688,15.8],[690,15],[692,14.8],[696,14.6],[700,14.3],[703,14.5],[706,13.8],[708,14],[712,14.2],[716,14],[720,14.6],[737,18.3],[728,17.5],[733,14.2],[738,13.3],[834,17],[828,16]];

const gDry = [[-4.4,100.6],[-3,50],[-1.5,30.6],[-3,14.6],[29.8,87.5],[30.4,85],[26.8,50],[37.2,50],[29.8,32],[31.2,23],[28.3,17.5],[32.7,14.6],[35.7,11.7],[38.7,17.5],[41.7,21.9],[44.6,40.8],[46.1,29.2],[49,32],[47.6,8.7],[52,35],[52.7,14.6],[13.4,14.6],[26.8,40.8],[71.4,32],[74.4,35],[80.3,35],[86.3,61.2],[83.3,32],[87.2,27.7],[89.2,23.3],[102.6,48.1],[102.6,29.2],[104.1,19],[105.6,16],[107.1,13.1],[108.6,11.7],[110.1,17.5],[111.5,67],[114.5,23.3],[119,29.2],[120.5,40.8],[126.4,11.7],[129.4,20.4],[132.4,14.6],[135.3,17.5],[138.3,20.4],[132.4,46.6],[138.3,35],[144.2,8.7],[147.2,81.6],[148.7,80.2],[156.1,35],[157.6,29.2],[159.1,90.4],[162.1,109.3],[163.6,53.9],[165,40.8],[166.6,32],[162.1,23.3],[168.1,17.5],[171,11.7],[174,61.2],[175.5,75.8],[177,84.5],[174,14.6],[177,8.7],[179.9,23.3],[188.8,23.3],[172.5,46.6],[223,107.9],[225,105],[227.5,84.5],[234.9,90.4],[248.3,96.2],[251.3,94.8],[218.6,70],[221.6,72.9],[220.1,58.3],[221.6,49.6],[223,32],[224.5,23.3],[218.6,26.2],[227.5,17.5],[230.5,14.6],[233.4,11.7],[236.4,16],[239.4,11.7],[242.4,8.7],[245.3,14.6],[248.3,20.4],[251.3,26.2],[252.8,64.1],[254.3,46.6],[254.3,40.8],[252.8,35],[259.6,58.3],[259.6,46.6],[259.6,35],[259.6,23.3],[259.6,11.7],[226,37.9],[230.5,55.4],[239.4,58.3],[243.9,32],[233.4,35],[285.5,75.8],[285.5,53.9],[285.5,49.6],[285.5,40.8],[285.5,29.2],[285.5,23.3],[285.5,17.5],[285.5,8.7],[540.6,36.4],[548,58.3],[546.5,24.8],[548.9,27.7],[548,17.5],[573.9,94.8],[568.8,77.3],[571.8,74.3],[574.8,84.5],[592.6,84.5],[604.5,100.6],[609,88.9],[616.4,78.7],[625.3,99.1],[627.7,106.4],[635.7,109.3],[641.7,99.1],[646.1,90.4],[652.1,87.5],[661,94.8],[670,87.5],[664,75.8],[674.4,70],[677.3,67],[720.5,55.4],[729.4,84.5],[744.3,94.8],[745.7,91.8],[753.2,67],[763.6,71.4],[766.6,84.5],[725,68.5],[610.4,64.1],[616.4,61.2],[628.3,70],[637.2,72.9],[622.3,55.4],[631.3,52.5],[658,61.2],[666.9,67],[687.7,52.5],[708.6,61.2],[717.5,49.6],[735.3,49.6],[747.2,52.5],[756.1,49.6],[765.1,61.2],[568,20],[570,35],[572,12],[574,28],[576,42],[578,18],[580,8],[582,30],[584,22],[586,38],[588,15],[590,26],[592,45],[594,10],[596,33],[598,20],[600,40],[602,14],[604,27],[606,36],[608,18],[610,30],[612,8],[614,24],[616,42],[618,16],[620,32],[622,22],[624,38],[626,12],[628,28],[630,35],[632,18],[634,44],[636,25],[638,10],[640,33],[642,20],[644,40],[646,15],[648,28],[650,36],[652,22],[654,8],[656,30],[658,18],[660,42],[662,26],[664,12],[666,34],[668,20],[670,45],[672,28],[674,15],[676,38],[678,22],[680,10],[682,30],[684,18],[686,35],[688,25],[690,12],[692,40],[694,20],[696,30],[698,15],[700,28],[702,38],[704,10],[706,24],[708,18],[710,32],[712,22],[714,14],[716,36],[718,26],[720,10],[722,30],[724,20],[726,40],[728,16],[730,28],[732,12],[734,34],[736,22],[738,8],[740,30],[742,18],[744,25],[746,35],[748,15],[750,28],[752,20],[754,38],[756,10],[758,24],[760,32],[762,18],[764,42],[766,14],[768,26],[770,20],[814,40],[815,35],[816,28],[817,20],[818,15],[819,10],[820,25],[822,18],[823,30],[824,12],[825,22],[826,71],[828,30],[830,20],[831,15],[832,38],[833,25],[834,10],[835,28],[836,18],[817,65],[827,52]];
const gDry2 = [[569,28],[571,15],[573,40],[575,22],[577,32],[579,12],[581,45],[583,18],[585,28],[587,35],[589,8],[591,22],[593,38],[595,16],[597,28],[599,12],[601,30],[603,45],[605,20],[607,10],[609,38],[611,22],[613,15],[615,32],[617,28],[619,8],[621,42],[623,18],[625,26],[627,50],[629,14],[631,30],[633,22],[635,10],[637,36],[639,24],[641,48],[643,16],[645,28],[647,38],[649,12],[651,25],[653,44],[655,18],[657,32],[659,8],[661,22],[663,40],[665,28],[667,15],[669,35],[671,20],[673,55],[675,12],[677,30],[679,42],[681,18],[683,26],[685,8],[687,36],[689,22],[691,48],[693,14],[695,28],[697,38],[699,10],[701,25],[703,50],[705,16],[707,32],[709,22],[711,42],[713,12],[715,28],[717,20],[719,38],[721,15],[723,45],[725,22],[727,30],[729,10],[731,40],[733,26],[735,18],[737,32],[739,14],[741,44],[743,22],[745,30],[747,8],[749,36],[751,20],[753,28],[755,14],[757,42],[759,20],[761,34],[763,12],[765,26],[767,40],[769,16],[600,58],[615,55],[630,62],[645,65],[660,58],[675,55],[690,62],[705,50],[720,58],[735,60],[750,54],[612,72],[638,80],[655,75],[682,68],[697,73],[712,65]];
const gWet = [[16.4,106.4],[22.3,56.9],[16.4,36.4],[20.8,26.2],[16.4,16],[49.1,27.7],[50.6,23.3],[52,20.4],[74.4,29.2],[78.8,26.2],[81.8,61.2],[89.2,77.3],[90.7,13.1],[92.2,2.9],[95.2,24.8],[99.6,5.8],[102.6,23.3],[105.6,5.8],[110.1,10.2],[111.5,70],[116,51],[119,68.5],[122,42.3],[126.4,13.1],[130.8,26.2],[133.8,32],[142.7,32],[169.5,77.3],[171,72.9],[171,58.3],[169.5,43.7],[171,37.9],[169.5,32],[172.5,27.7],[171,23.3],[169.5,17.5],[172.5,13.1],[171,8.7],[179.9,99.1],[180.5,84.5],[181.4,70],[179.9,58.3],[181.4,49.6],[180.5,40.8],[181.4,32],[179.9,26.2],[181.4,20.4],[180.5,14.6],[181.4,8.7],[182.3,4.4],[188.8,87.5],[188.8,51],[188.8,35],[233.4,105],[227.5,91.8],[230.5,81.6],[226,67],[224.5,58.3],[227.5,49.6],[229,42.3],[232,40.8],[233.4,37.9],[234.9,32],[236.4,35],[237.9,29.2],[239.4,32],[240.9,26.2],[242.4,35],[243.9,23.3],[245.3,29.2],[246.8,20.4],[248.3,32],[249.8,64.1],[248.3,55.4],[230.5,23.3],[233.4,17.5],[236.4,20.4],[239.4,16],[242.4,17.5],[245.3,11.7],[234.9,11.7],[237.9,8.7],[240.9,13.1],[232,27.7],[243.9,40.8],[246.8,37.9],[272.7,116.6],[273.6,105],[272.7,97.7],[274.5,93.3],[272.1,61.2],[272.7,55.4],[273.6,49.6],[272.1,43.7],[272.7,37.9],[273.6,32],[272.1,27.7],[273.6,23.3],[272.7,19],[272.1,14.6],[273.6,10.2],[272.7,5.8],[547.4,71.4],[545.6,51],[546.5,43.7],[547.4,32],[543.5,13.1],[548,10.2],[569,45],[571,25],[573,60],[575,15],[575,85],[576,35],[577,5],[578,50],[579,28],[580,18],[587,70],[588,40],[589,20],[590,55],[591,10],[592,30],[593,48],[594,15],[595,25],[598,35],[604,22],[611,45],[620,12],[630,28],[589,108],[640,32],[645,60],[647,20],[650,42],[652,8],[654,30],[656,50],[658,15],[660,25],[662,38],[648.5,93],[653.6,92],[665,10],[684,48],[690,30],[701,82],[708.6,83],[705,45],[707,30],[709,20],[711,12],[705,62],[726,55],[728,25],[730,15],[736,8],[742,35],[833,14]];

const hDry = [[-4.4,1.74],[-3,1.35],[-4.4,0.63],[-1.5,0.39],[13.4,0.95],[23.8,1.61],[26.8,1.48],[29.8,2.47],[30.7,2.37],[34.2,2.27],[31.2,1.48],[32.7,1.28],[31.2,1.02],[34.2,0.82],[31.2,0.59],[28.3,0.46],[38.7,0.95],[41.7,0.76],[43.1,1.09],[43.1,2.07],[46.1,1.64],[46.1,0.95],[47.6,0.82],[49,1.02],[52.7,2.35],[52,0.76],[50.6,0.59],[69.3,1.25],[72.9,1.84],[72.9,0.79],[75.9,0.49],[80.3,0.72],[83.3,0.56],[84.8,0.43],[86.3,1.09],[89.2,0.89],[90.7,1.32],[89.2,0.69],[102.6,1.02],[104.1,0.82],[105.6,0.56],[104.1,2.8],[107.1,2.53],[107.1,2.34],[107.1,1.88],[108.6,1.61],[110.1,1.09],[111.5,0.63],[113,0.95],[114.5,2.47],[114.5,2.14],[117.5,0.43],[120.5,0.63],[126.4,1.55],[127.9,1.35],[129.4,1.09],[130.8,0.95],[129.4,2.53],[130.8,2.34],[133.8,2.01],[135.3,1.61],[136.8,1.28],[132.4,0.82],[135.3,0.59],[138.3,0.46],[145.7,2.86],[148.7,2.66],[150.2,0.82],[150.2,0.43],[156.1,1.02],[157.6,0.43],[159.1,1.35],[160.6,0.95],[162.1,1.15],[162.1,0.63],[163.6,0.46],[165,0.69],[166.6,1.61],[168.1,0.56],[169.5,0.43],[172.5,0.33],[174,2.14],[175.5,1.94],[174,0.82],[177,1.02],[179.9,0.56],[217.1,1.15],[218.6,1.02],[220.1,0.82],[221.6,0.56],[223,0.36],[224.5,0.23],[226,0.43],[227.5,0.69],[230.5,0.43],[233.4,0.23],[236.4,0.36],[239.4,0.56],[242.4,0.69],[243.9,0.39],[245.3,0.23],[248.3,0.49],[249.8,0.82],[251.3,1.02],[246.8,2.34],[249.8,2.4],[251.3,2.2],[243.9,2.01],[252.8,1.48],[252.8,1.28],[259.6,2.53],[259.6,1.48],[259.6,1.28],[259.6,0.82],[259.6,0.43],[259.6,0.23],[224.5,0.82],[236.4,0.82],[227.5,1.35],[285.5,1.25],[285.5,1.09],[285.5,0.92],[285.5,0.76],[285.5,0.59],[285.5,0.43],[285.5,0.3],[540.6,0.59],[548,1.22],[548.6,0.82],[548,0.49],[586.6,2.8],[595.6,2.8],[570.3,2.11],[598.5,2.27],[612,2.24],[628.3,2.2],[641.7,2.63],[645.5,2.4],[643.2,2.01],[669.9,2.53],[677.3,2.43],[695.2,2.01],[705.6,2.83],[714.5,2.53],[729.4,1.41],[741.3,1.78],[742.8,2.43],[756.1,2.63],[765.1,2.8],[759.1,2.07],[762.1,2.01],[763.6,1.88],[765.1,1.74],[766.6,1.61],[768,1.48],[598.5,1.74],[604.5,1.55],[610.4,1.48],[616.4,1.55],[622.3,1.51],[628.3,1.48],[634.2,1.48],[640.2,1.41],[652.1,1.48],[658,1.41],[666.9,1.48],[675.9,1.48],[684.8,1.55],[690.7,1.28],[699.7,1.15],[710.1,1.09],[717.5,1.28],[732.4,1.15],[747.2,1.35],[568,0.5],[570,0.3],[572,0.7],[574,0.4],[576,0.2],[578,0.6],[580,0.35],[582,0.8],[584,0.45],[586,0.25],[588,0.65],[590,0.4],[592,0.9],[594,0.3],[596,0.55],[598,0.2],[600,0.75],[602,0.4],[604,0.6],[606,0.25],[608,0.85],[610,0.45],[612,0.3],[614,0.7],[616,0.5],[618,0.2],[620,0.95],[622,0.4],[624,0.6],[626,0.3],[628,0.8],[630,0.45],[632,0.25],[634,0.65],[636,0.5],[638,0.2],[640,1],[642,0.4],[644,0.7],[646,0.3],[648,0.55],[650,0.2],[652,0.85],[654,0.45],[656,0.6],[658,0.35],[660,0.75],[662,0.25],[664,0.5],[666,0.9],[668,0.4],[670,0.6],[672,0.3],[674,0.7],[676,0.45],[678,0.2],[680,0.8],[682,0.5],[684,0.35],[686,0.65],[688,0.25],[690,0.55],[692,0.4],[694,0.9],[696,0.3],[698,0.6],[700,0.45],[702,0.2],[704,0.7],[706,0.5],[708,0.35],[710,0.85],[712,0.4],[714,0.25],[716,0.6],[718,0.45],[720,0.75],[722,0.3],[724,0.55],[726,0.2],[728,0.7],[730,0.4],[732,0.9],[734,0.5],[736,0.3],[738,0.65],[740,0.45],[742,0.2],[744,0.8],[746,0.55],[748,0.35],[750,0.7],[752,0.25],[754,0.6],[756,0.45],[758,0.95],[760,0.3],[762,0.7],[764,0.5],[766,0.2],[768,0.8],[770,0.4],[575,0.15],[585,0.12],[595,0.1],[605,0.15],[615,0.12],[625,0.1],[635,0.14],[645,0.1],[655,0.12],[665,0.15],[675,0.1],[814,1],[815,0.9],[816,0.7],[817,0.55],[818,0.4],[819,0.25],[820,0.6],[821,0.8],[822,1.1],[823,0.45],[824,0.3],[825,0.7],[826,1.2],[828,0.5],[829,0.85],[830,1.5],[831,1.3],[832,1],[833,0.75],[834,0.6],[835,1.75],[818.6,2.5],[836,1.7]];
const hDry2 = [[569,0.8],[571,0.45],[573,0.25],[575,0.6],[577,0.95],[579,0.3],[581,0.55],[583,0.2],[585,0.75],[587,0.4],[589,0.3],[591,0.65],[593,0.15],[595,0.45],[597,0.85],[599,0.35],[601,0.55],[603,0.2],[605,0.7],[607,0.45],[609,0.25],[611,0.9],[613,0.5],[615,0.3],[617,0.75],[619,0.4],[621,0.15],[623,0.6],[625,0.35],[627,1.1],[629,0.25],[631,0.65],[633,0.45],[635,0.2],[637,0.8],[639,0.4],[641,0.6],[643,0.3],[645,0.95],[647,0.5],[649,0.25],[651,0.7],[653,0.35],[655,0.55],[657,0.2],[659,0.85],[661,0.45],[663,0.3],[665,0.65],[667,0.2],[669,0.5],[671,1.0],[673,0.35],[675,0.6],[677,0.25],[679,0.75],[681,0.4],[683,0.2],[685,0.9],[687,0.45],[689,0.3],[691,0.7],[693,0.2],[695,0.55],[697,0.35],[699,0.8],[701,0.25],[703,0.6],[705,0.4],[707,0.2],[709,0.7],[711,0.45],[713,1.05],[715,0.3],[717,0.55],[719,0.25],[721,0.85],[723,0.4],[725,0.6],[727,0.3],[729,0.95],[731,0.5],[733,0.25],[735,0.7],[737,0.4],[739,1.1],[741,0.3],[743,0.55],[745,0.2],[747,0.75],[749,0.45],[751,1.0],[753,0.35],[755,0.6],[757,0.8],[759,0.25],[761,1.2],[763,0.45],[765,0.9],[767,0.6],[769,1.3]];
const hWet = [[16.4,1.25],[17.9,1.02],[16.4,0.82],[19.4,0.59],[22.3,0.46],[16.4,0.36],[25.3,0.46],[49.1,1.12],[51.5,1.22],[50.6,0.95],[72.9,0.82],[75.9,0.66],[80.3,1.15],[81.8,0.43],[84.8,0.36],[90.7,0.56],[90.7,1.48],[92.2,2.8],[95.2,2.53],[96.7,2.27],[98.2,2.53],[95.2,0.33],[99.6,0.43],[101.1,2.01],[102.6,1.91],[104.1,1.09],[105.6,1.28],[126.4,0.72],[130.8,0.53],[144.2,1.22],[159.1,2.66],[162.1,2.47],[169.5,2.14],[170.4,1.61],[171,1.35],[169.5,0.95],[171.6,0.82],[169.5,0.69],[172.5,0.56],[171,0.43],[173.4,0.33],[171,0.23],[179.9,2.47],[180.5,1.81],[181.4,1.48],[179.9,1.09],[181.4,0.95],[180.5,0.82],[182.3,0.72],[179.9,0.59],[181.4,0.46],[180.5,0.33],[182.3,0.23],[181.4,0.13],[188.8,0.36],[188.8,0.16],[188.8,0.56],[226,2.73],[226,1.81],[227.5,1.48],[229,1.28],[233.4,2.27],[234.9,1.61],[234.9,1.15],[236.4,1.28],[239.4,1.02],[240.9,1.15],[242.4,0.95],[243.9,1.88],[245.3,1.91],[246.8,0.82],[248.3,0.95],[251.3,2.07],[239.4,0.69],[233.4,0.56],[236.4,0.43],[237.9,0.23],[242.4,0.49],[245.3,0.36],[248.3,0.23],[240.9,0.16],[232,0.3],[229,0.69],[230.5,0.95],[234.9,0.79],[273.6,2.76],[272.7,2.53],[273.6,2.37],[272.1,2.14],[272.7,1.88],[273.6,1.68],[272.1,1.48],[272.7,1.35],[273.6,1.18],[272.1,1.05],[272.7,0.92],[273.6,0.79],[272.1,0.66],[272.7,0.53],[273.6,0.39],[272.1,0.26],[272.7,0.16],[543.5,1.68],[545,0.95],[546.5,0.53],[547.4,0.36],[574,2.9],[575,2.7],[574,2.5],[575,2.3],[576,2.1],[574,1.9],[575,1.75],[574,1.6],[576,1.4],[575,1.25],[574,1.1],[576,0.95],[575,0.8],[574,0.65],[576,0.5],[575,0.35],[574,0.2],[588,2.8],[588,2.33],[590,2.25],[592,2.2],[587,1.85],[588,1.6],[589,1.4],[590,1.2],[588,1],[589,0.8],[591,0.6],[590,0.4],[592,0.25],[593,0.5],[595,0.7],[639,0.8],[650,1.25],[648,1.5],[651,1.1],[653,0.95],[655,0.8],[650,0.6],[652,0.45],[654,0.3],[656,0.6],[658,0.4],[660,0.2],[646,1.8],[620,0.6],[630,0.5],[612,0.35],[600,0.9],[684,0.5],[688,0.3],[693,0.65],[699,0.4],[703,0.9],[705,0.6],[711.5,2.7],[711,2.45],[711,2.2],[713,1.68],[708,1],[710,0.55],[712,0.3],[725,0.85],[728,0.5],[730,0.3],[737,0.45],[834,1.05]];

// periods without seismic data (shaded)
const grayFrom = [54.5, 191.5, 262, 276.5, 290, 553.3, 773.5];
const grayTo   = [68.8, 215.5, 270.6, 284.5, 538.4, 566.5, 811.5];
// event markers (red dashed lines): day, start value in panel a, end value in panel d
const evDay   = [272.1, 275.1, 574.8, 576.8, 597.7, 644, 675.3];
const evStart = [18, 18, 17, 17, 11, 25, 14];
const evEnd   = [12.5, 12.5, 8.6, 8.6, 5.6, 5.6, 6.6];

// ---------- rendering ----------
const FONT = '"Liberation Sans", Arial, Helvetica, sans-serif';
const X0 = -5.4, X1 = 848;
const BLUE = '#1b7cc8', TEAL = '#20c0bb', NAVY = '#1a2583', RED = '#ff1a0a', DRY = '#e8401c', WET = '#1a2a8e', GRAY = '#e2e2e2';
const dayOf = s => { const p = s.split('-').map(Number); return (Date.UTC(p[0], p[1]-1, 1) - Date.UTC(2013, 10, 1)) / 864e5; };
const monthTicks = tickMonths.map(dayOf);
const pts = a => a.map(p => ({x: p[0], y: p[1]}));
const sc = (d, c) => ({type: 'scatter', data: pts(d), backgroundColor: c, pointRadius: 1.9, pointBorderWidth: 0, borderWidth: 0});

const panels = [
  {id:'a', top:9.5, bottom:152, min:-5, max:35, major:[0,10,20,30], minor:5, title:[['Air T [°C]',0]], type:'line',
   ds:[{type:'line', data:pts(airHi), borderColor:BLUE, backgroundColor:BLUE, borderWidth:1.5, pointRadius:0, fill:'+1', tension:0},
       {type:'line', data:pts(airLo), borderColor:BLUE, backgroundColor:BLUE, borderWidth:1.5, pointRadius:0, fill:false, tension:0}]},
  {id:'b', top:200.7, bottom:333.6, min:0, max:6, major:[0,2,4,6], minor:1, title:[['|ΔT| [°C]',0]], type:'line',
   ds:[{type:'line', data:pts(dT), borderColor:TEAL, backgroundColor:TEAL, borderWidth:1, pointRadius:0, fill:'origin', tension:0}]},
  {id:'c', top:378, bottom:496, min:0, max:40, major:[0,10,20,30,40], minor:5, title:[['P [mm]',0]], type:'bar',
   ds:[{type:'bar', data:pts(pRain), backgroundColor:NAVY, barThickness:2.6}]},
  {id:'d', top:542, bottom:670, min:0, max:15, major:[0,5,10,15], minor:2.5, title:[['MS ev [-]',0]], type:'line', gray:true, nodata:true,
   ds:[{type:'line', data:pts(msEv), stepped:'before', borderColor:RED, backgroundColor:RED, borderWidth:0, pointRadius:0, fill:'origin'}]},
  {id:'e', top:747, bottom:882, padTop:46, min:0, max:2, major:[0,1,2], minor:0.5, title:[['A',0],['max',1],[' [m/s]',0]], type:'scatter', gray:true, nodata:true, legend:true, x10:true,
   ds:[sc(eDry.concat(eDry2), DRY), sc(eWet, WET)]},
  {id:'f', top:932, bottom:1067, min:13, max:23, major:[14,16,18,20,22], minor:1, title:[['f',0],['max',1],[' [Hz]',0]], type:'scatter', gray:true, nodata:true,
   ds:[sc(fDry.concat(fDry2), DRY), sc(fWet, WET)]},
  {id:'g', top:1110, bottom:1247, min:0, max:120, major:[0,50,100], minor:25, title:[['kurtosis [k]',0]], type:'scatter', gray:true, nodata:true,
   ds:[sc(gDry.concat(gDry2), DRY), sc(gWet, WET)]},
  {id:'h', top:1294, bottom:1442, min:0, max:3, major:[0,1,2,3], minor:0.5, title:[['Duration [s]',0]], type:'scatter', gray:true, nodata:true,
   ds:[sc(hDry.concat(hDry2), DRY), sc(hWet, WET)]}
];

const XH = 38, TITLE_X = 29;

function drawTitle(ctx, P, a) {
  const yc = (a.top + a.bottom) / 2;
  const MF = '25px ' + FONT, SF = '17px ' + FONT;
  ctx.save();
  ctx.translate(TITLE_X, yc);
  ctx.rotate(-Math.PI / 2);
  ctx.fillStyle = '#111';
  ctx.textBaseline = 'middle';
  ctx.textAlign = 'left';
  let w = 0;
  P.title.forEach(p => { ctx.font = p[1] ? SF : MF; w += ctx.measureText(p[0]).width; });
  let u = -w / 2;
  P.title.forEach(p => { ctx.font = p[1] ? SF : MF; ctx.fillText(p[0], u, p[1] ? 8 : 0); u += ctx.measureText(p[0]).width; });
  ctx.restore();
}

function makeDecor(P) {
  return {
    id: 'decor_' + P.id,
    beforeDatasetsDraw(chart) {
      const ctx = chart.ctx, a = chart.chartArea, x = chart.scales.x, y = chart.scales.y;
      ctx.save();
      if (P.gray) {
        ctx.fillStyle = GRAY;
        grayFrom.forEach((g, i) => {
          const x0 = x.getPixelForValue(g), x1 = x.getPixelForValue(grayTo[i]);
          ctx.fillRect(x0, a.top, x1 - x0, a.bottom - a.top);
        });
      }
      ctx.strokeStyle = '#b4b4b4';
      ctx.lineWidth = 1;
      ctx.setLineDash([1.5, 2]);
      monthTicks.forEach((v, i) => {
        if (!tickLabels[i]) return;
        const px = Math.round(x.getPixelForValue(v)) + 0.5;
        ctx.beginPath(); ctx.moveTo(px, a.top); ctx.lineTo(px, a.bottom); ctx.stroke();
      });
      P.major.forEach(v => {
        const py = Math.round(y.getPixelForValue(v)) + 0.5;
        ctx.beginPath(); ctx.moveTo(a.left, py); ctx.lineTo(a.right, py); ctx.stroke();
      });
      ctx.restore();
    },
    afterDatasetsDraw(chart) {
      const ctx = chart.ctx, a = chart.chartArea, x = chart.scales.x, y = chart.scales.y;
      ctx.save();
      ctx.setLineDash([]);
      ctx.strokeStyle = '#000';
      ctx.lineWidth = 1.5;
      const TL = 7;
      monthTicks.forEach(v => {
        const px = x.getPixelForValue(v);
        ctx.beginPath(); ctx.moveTo(px, a.bottom); ctx.lineTo(px, a.bottom - TL);
        ctx.moveTo(px, a.top); ctx.lineTo(px, a.top + TL); ctx.stroke();
      });
      for (let v = P.min; v <= P.max + 1e-9; v += P.minor) {
        const py = y.getPixelForValue(v);
        ctx.beginPath(); ctx.moveTo(a.left, py); ctx.lineTo(a.left + TL, py);
        ctx.moveTo(a.right, py); ctx.lineTo(a.right - TL, py); ctx.stroke();
      }
      ctx.lineWidth = 2;
      ctx.strokeRect(a.left, a.top, a.right - a.left, a.bottom - a.top);
      ctx.fillStyle = '#111';
      ctx.font = '32px ' + FONT;
      ctx.textAlign = 'right';
      ctx.textBaseline = 'alphabetic';
      ctx.fillText(P.id, a.right - 11, a.top + 31);
      if (P.nodata) {
        ctx.font = 'italic 31px ' + FONT;
        ctx.textAlign = 'center';
        ctx.textBaseline = 'middle';
        ctx.fillText('no data', x.getPixelForValue(406), (a.top + a.bottom) / 2);
      }
      if (P.x10) {
        ctx.textAlign = 'left';
        ctx.textBaseline = 'alphabetic';
        ctx.font = '22px ' + FONT;
        ctx.fillText('x 10', a.left - 1, a.top - 12);
        const w = ctx.measureText('x 10').width;
        ctx.font = '15px ' + FONT;
        ctx.fillText('-5', a.left - 1 + w + 1, a.top - 24);
      }
      if (P.legend) {
        const ly = a.top - 18;
        const items = [['dry', DRY, 1046], ['wet', WET, 1133]];
        items.forEach(it => {
          ctx.fillStyle = it[1];
          ctx.beginPath();
          ctx.moveTo(it[2], ly - 6); ctx.lineTo(it[2] + 6, ly); ctx.lineTo(it[2], ly + 6); ctx.lineTo(it[2] - 6, ly); ctx.closePath();
          ctx.fill();
          ctx.fillStyle = '#111';
          ctx.font = '26px ' + FONT;
          ctx.textAlign = 'left';
          ctx.textBaseline = 'middle';
          ctx.fillText(it[0], it[2] + 8, ly + 1);
        });
      }
      ctx.restore();
      drawTitle(ctx, P, a);
    }
  };
}

const wrap = document.getElementById('wrap');
const charts = [];
panels.forEach(P => {
  const padTop = P.padTop || 24;
  const cv = document.createElement('canvas');
  const h = Math.round(P.bottom - P.top + padTop + XH);
  P.canvasTop = P.top - padTop;
  cv.width = 1200; cv.height = h;
  cv.style.width = '1200px'; cv.style.height = h + 'px';
  cv.style.top = P.canvasTop + 'px';
  wrap.appendChild(cv);
  const ch = new Chart(cv.getContext('2d'), {
    type: P.type,
    data: {datasets: P.ds},
    options: {
      responsive: false, animation: false, devicePixelRatio: 1, events: [],
      layout: {padding: {left: 0, right: 11, top: padTop, bottom: 0}},
      plugins: {legend: {display: false}, tooltip: {enabled: false}},
      scales: {
        x: {type: 'linear', min: X0, max: X1, offset: false,
            afterBuildTicks: s => { s.ticks = monthTicks.map(v => ({value: v})); },
            afterFit: s => { s.height = XH; },
            grid: {display: false, drawTicks: false}, border: {display: false},
            ticks: {autoSkip: false, maxRotation: 0, minRotation: 0, padding: 7, color: '#111',
                    font: {family: FONT, size: 23},
                    callback: v => { const i = monthTicks.indexOf(v); return i >= 0 ? tickLabels[i] : ''; }}},
        y: {type: 'linear', min: P.min, max: P.max,
            afterBuildTicks: s => { s.ticks = P.major.map(v => ({value: v})); },
            afterFit: s => { s.width = 91; },
            grid: {display: false, drawTicks: false}, border: {display: false},
            ticks: {padding: 8, color: '#111', font: {family: FONT, size: 23}, callback: v => String(v)}}
      }
    },
    plugins: [makeDecor(P)]
  });
  charts.push(ch);
});

const ov = document.createElement('canvas');
ov.width = 1200; ov.height = 1475;
ov.style.top = '0px'; ov.style.width = '1200px'; ov.style.height = '1475px';
wrap.appendChild(ov);
const octx = ov.getContext('2d');
octx.strokeStyle = '#d8281e';
octx.lineWidth = 1.2;
octx.setLineDash([5, 3]);
const ca = charts[0], cd = charts[3];
evDay.forEach((d, i) => {
  const px = Math.round(ca.scales.x.getPixelForValue(d)) + 0.5;
  const y0 = panels[0].canvasTop + ca.scales.y.getPixelForValue(evStart[i]);
  const y1 = panels[3].canvasTop + cd.scales.y.getPixelForValue(evEnd[i]);
  octx.beginPath(); octx.moveTo(px, y0); octx.lineTo(px, y1); octx.stroke();
});
</script></body></html>
